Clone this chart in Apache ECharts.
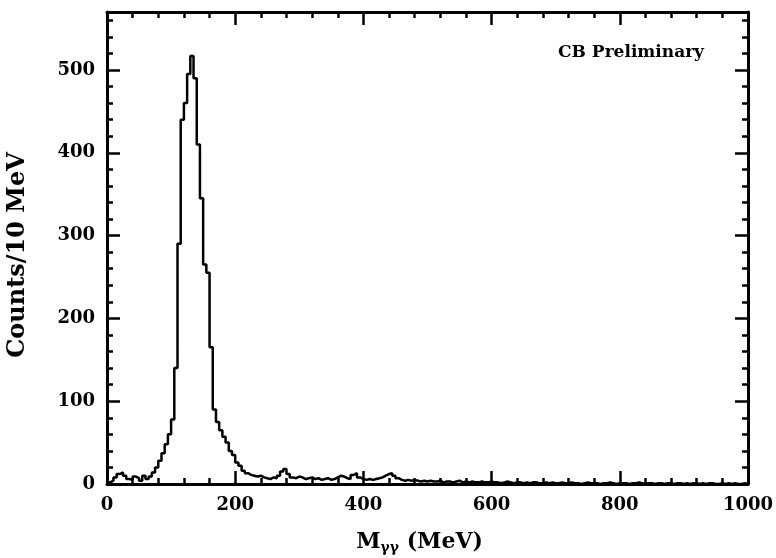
<!DOCTYPE html>
<html>
<head>
<meta charset="utf-8">
<script src="https://cdn.jsdelivr.net/npm/echarts@6/dist/echarts.min.js"></script>
<style>
  html, body { margin: 0; padding: 0; background: #fff; }
  #chart { width: 776px; height: 558px; }
</style>
</head>
<body>
<div id="chart"></div>
<script>
// histogram of M_gg, 5 MeV bins starting at 0
var binWidth = 5;
var xMin = 0, xMax = 1000;
var yMax = 570;
var counts = [
    // 0 - 100
    2, 4, 8, 12, 14, 10, 6, 5, 9, 7, 4, 10, 6, 9, 14, 20, 28, 37, 48, 60,
    // 100 - 200
    78, 140, 290, 440, 460, 495, 517, 490, 410, 345, 265, 255, 165, 90, 75, 65, 57, 50, 40, 35,
    // 200 - 300
    26, 22, 16, 13, 11, 10, 9, 10, 8, 7, 6, 8, 7, 10, 15, 18, 12, 8, 7, 9,
    // 300 - 400
    8, 6, 7, 8, 6, 7, 5, 6, 7, 5, 6, 8, 10, 9, 7, 6, 11, 13, 8, 6,
    // 400 - 500
    5, 6, 5, 6, 7, 8, 10, 12, 13, 10, 7, 5, 4, 5, 4, 5, 4, 3, 4, 3,
    // 500 - 600
    4, 3, 3, 4, 2, 3, 3, 2, 3, 4, 2, 3, 2, 3, 2, 2, 3, 2, 2, 3,
    // 600 - 700
    2, 2, 1, 2, 3, 2, 1, 2, 2, 1, 2, 1, 2, 2, 1, 1, 2, 1, 2, 1,
    // 700 - 800
    1, 2, 1, 1, 2, 1, 1, 0, 1, 2, 1, 1, 1, 0, 1, 1, 2, 1, 0, 1,
    // 800 - 900
    1, 1, 0, 1, 1, 2, 1, 0, 1, 1, 0, 1, 1, 0, 1, 1, 0, 1, 1, 0,
    // 900 - 1000
    1, 0, 1, 1, 0, 1, 0, 1, 1, 0, 0, 1, 0, 1, 0, 1, 0, 0, 1, 0
];

var serif = '"DejaVu Serif", "Liberation Serif", serif';

// left edges + closing right edge for the step line
var stepData = counts.map(function (c, i) {
    return [xMin + i * binWidth, c];
});
stepData.push([xMin + counts.length * binWidth, counts[counts.length - 1]]);

function frameAxis(showLabel) {
    return {
        axisLine: {show: true, onZero: false, lineStyle: {color: '#000', width: 3}},
        axisTick: {show: true, inside: true, length: 13, lineStyle: {color: '#000', width: 2.5}},
        minorTick: {show: true, splitNumber: 5, length: 6, lineStyle: {color: '#000', width: 2.5}},
        splitLine: {show: false},
        axisLabel: {
            show: showLabel,
            color: '#000',
            fontFamily: serif,
            fontWeight: 'bold',
            fontSize: 18,
            margin: 12,
            formatter: function (v) { return String(v); }
        }
    };
}

var xBottom = Object.assign(frameAxis(true), {
    type: 'value', position: 'bottom', min: xMin, max: xMax, interval: 200,
    name: '{m|M}{s|γγ}{m| (MeV)}',
    nameLocation: 'middle',
    nameGap: 45,
    nameTextStyle: {
        padding: [0, 16, 0, 0],
        rich: {
            m: {fontFamily: serif, fontWeight: 'bold', fontSize: 22, color: '#000'},
            s: {fontFamily: serif, fontWeight: 'bold', fontSize: 14, color: '#000', padding: [12, 0, 0, 0]}
        }
    }
});
var xTop = Object.assign(frameAxis(false), {
    type: 'value', position: 'top', min: xMin, max: xMax, interval: 200
});
var yLeft = Object.assign(frameAxis(true), {
    type: 'value', position: 'left', min: 0, max: yMax, interval: 100,
    name: 'Counts/10 MeV',
    nameLocation: 'middle',
    nameGap: 77,
    nameTextStyle: {fontFamily: serif, fontWeight: 'bold', fontSize: 24, color: '#000', padding: [0, 14, 0, 0]}
});
yLeft.axisLabel.showMaxLabel = false;
var yRight = Object.assign(frameAxis(false), {
    type: 'value', position: 'right', min: 0, max: yMax, interval: 100
});

var option = {
    backgroundColor: '#fff',
    animation: false,
    grid: {left: 107, right: 28, top: 12, bottom: 74, outerBoundsMode: 'none'},
    xAxis: [xBottom, xTop],
    yAxis: [yLeft, yRight],
    graphic: [{
        type: 'text',
        right: 72,
        top: 44,
        style: {
            text: 'CB Preliminary',
            fontFamily: serif,
            fontWeight: 'bold',
            fontSize: 17,
            fill: '#000'
        }
    }],
    series: [{
        type: 'line',
        xAxisIndex: 0,
        yAxisIndex: 0,
        step: 'end',
        symbol: 'none',
        data: stepData,
        lineStyle: {color: '#000', width: 2.5}
    }]
};

var chart = echarts.init(document.getElementById('chart'));
chart.setOption(option);
</script>
</body>
</html>
